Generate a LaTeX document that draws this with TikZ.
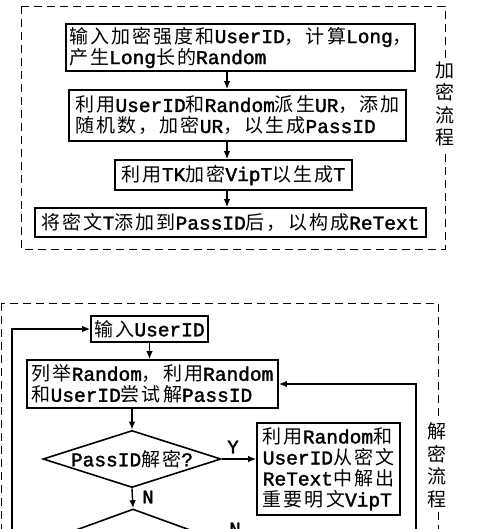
\documentclass[tikz,border=0pt]{standalone}
\usepackage{fontspec}
\setmainfont{Noto Sans CJK SC}[LetterSpace=11]
\newfontfamily\latfont{Liberation Mono}[FakeBold=1.8]
\usetikzlibrary{arrows.meta,shapes.geometric}
\newcommand\E[1]{{\latfont\fontsize{19.5}{21}\selectfont #1}}
\begin{document}
\begin{tikzpicture}[x=1pt,y=-1pt,
  every node/.style={font=\fontsize{19}{21}\selectfont, inner sep=0pt},
  procbox/.style={draw, line width=1.6pt, align=left, inner xsep=2pt},
  decision/.style={draw, diamond, line width=1.6pt, aspect=3.1, inner sep=0pt},
  arr/.style={line width=1.4pt, -{Latex[length=8pt,width=6.5pt]}},
  frame/.style={line width=0.9pt, dash pattern=on 8pt off 5pt},
  sidelabel/.style={fill=white, align=center, font=\fontsize{19}{22.5}\selectfont, inner ysep=4pt, inner xsep=1pt},
  yn/.style={font={\latfont\fontsize{19}{21}\selectfont}}]
\path[use as bounding box] (0,0) rectangle (500,529);
\clip (0,0) rectangle (500,529);

% ---------- encryption flow ----------
\draw[frame] (21,6) rectangle (445,249);
\node[sidelabel] (lab1) at (445,104) {加\\密\\流\\程};

\coordinate (sp) at (227,0);
\node[procbox, minimum width=349pt, minimum height=47pt] (b1) at (240.5,47.5)
  {输入加密强度和\E{UserID}，计算\E{Long}，\\产生\E{Long}长的\E{Random}};
\node[procbox, minimum width=337pt, minimum height=51pt] (b2) at (237.5,115.5)
  {利用\E{UserID}和\E{Random}派生\E{UR}，添加\\随机数，加密\E{UR}，以生成\E{PassID}};
\node[procbox, minimum width=237pt, minimum height=30pt] (b3) at (233.5,175)
  {利用\E{TK}加密\E{VipT}以生成\E{T}};
\node[procbox, minimum width=391pt, minimum height=29pt] (b4) at (230.5,222.5)
  {将密文\E{T}添加到\E{PassID}后，以构成\E{ReText}};

\draw[arr] (b1.south -| sp) -- (b2.north -| sp);
\draw[arr] (b2.south -| sp) -- (b3.north -| sp);
\draw[arr] (b3.south -| sp) -- (b4.north -| sp);

% ---------- decryption flow ----------
\draw[frame] (1,303) rectangle (438,700);
\node[sidelabel] (lab2) at (437,465) {解\\密\\流\\程};

\node[procbox, minimum width=117pt, minimum height=26pt] (in) at (149.5,329)
  {输入\E{UserID}};
\node[procbox, minimum width=251pt, minimum height=48pt] (b6) at (152.5,384)
  {列举\E{Random}，利用\E{Random}\\和\E{UserID}尝试解\E{PassID}};
\node[decision, minimum width=178pt, minimum height=57pt] (dia) at (132,459)
  {\E{PassID}解密\E{?}};
\node[procbox, minimum width=143pt, minimum height=92pt] (by) at (328.5,469)
  {利用\E{Random}和\\\E{UserID}从密文\\\E{ReText}中解出\\重要明文\E{VipT}};
\node[decision, minimum width=170pt, minimum height=62pt] (dia2) at (133,540) {};

\coordinate (lb) at (12,700);
\coordinate (rx) at (416,0);

\draw[arr] (in.south) -- (in.south |- b6.north);
\draw[arr] (b6.south -| dia.north) -- (dia.north);
\draw[arr] (dia.east) -- (dia.east -| by.west);
\node[yn] (ly) at (233,447) {Y};
\draw[arr] (dia.south) -- (dia2.north);
\node[yn] (ln) at (148,497) {N};
\draw[arr] (lb) |- (in.west);
\draw[arr] (dia2.east) -- (dia2.east -| rx) |- (b6.east);
\node[yn] (ln2) at (235,529) {N};
\end{tikzpicture}
\end{document}
